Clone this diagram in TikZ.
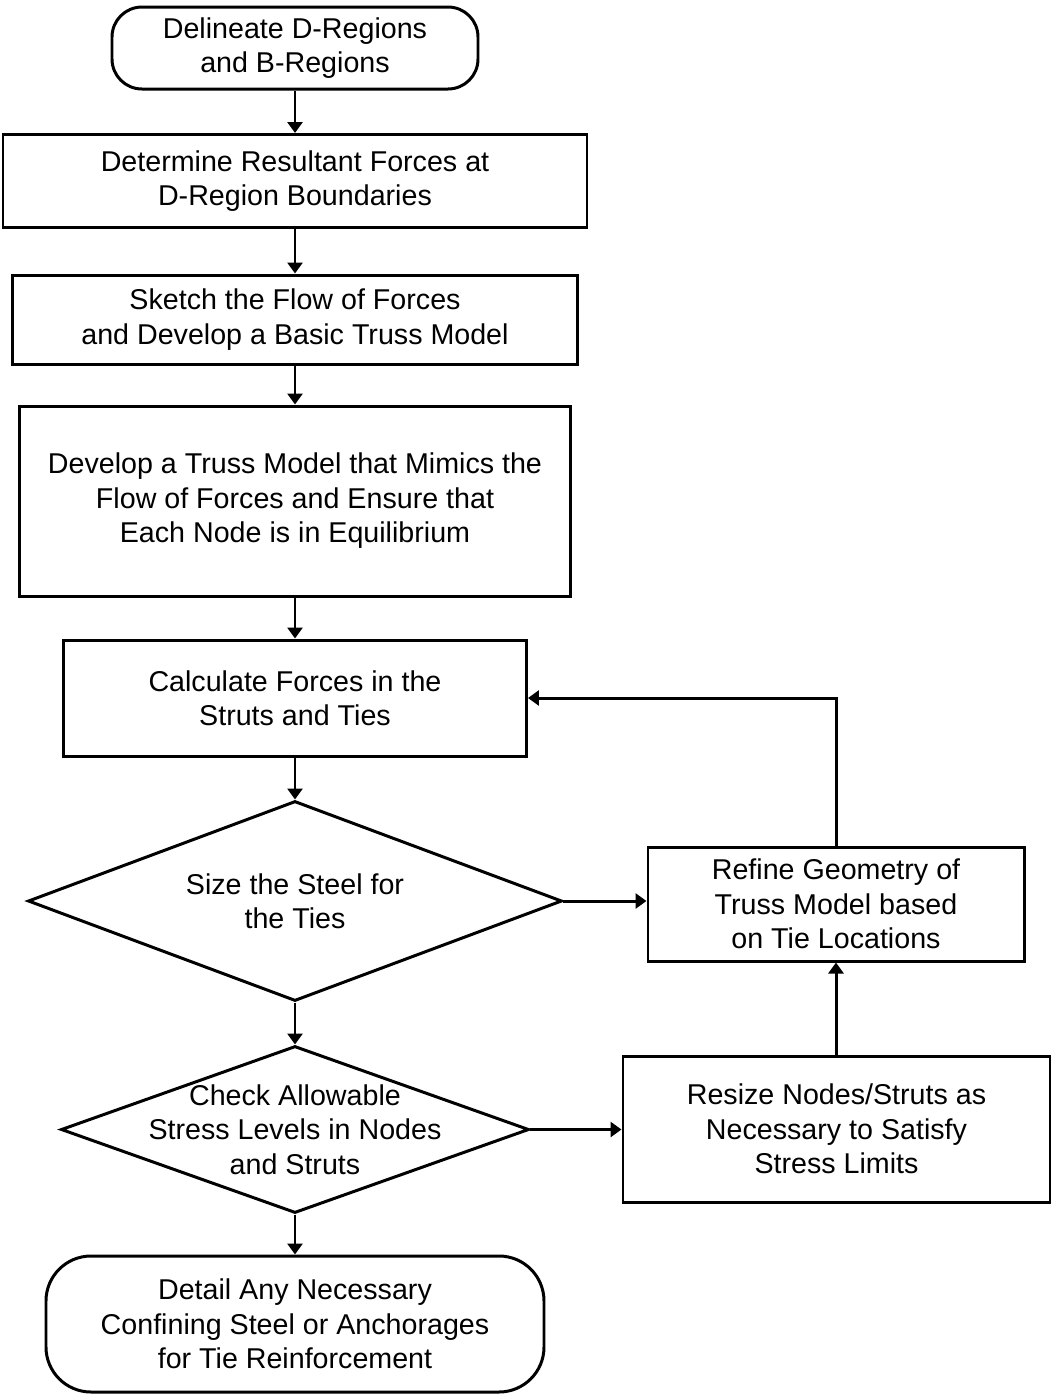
\documentclass[tikz,border=0pt]{standalone}
\usepackage{fontspec}
\setmainfont{Liberation Sans}
\usepackage{tikz}
\usetikzlibrary{shapes, shapes.geometric, positioning, arrows.meta}
\usepackage{xcolor}

\begin{document}
\begin{tikzpicture}[line width=1.7pt, >={Triangle[length=0.22cm, width=0.3cm]}]

  \tikzstyle{stepbox} = [rectangle, draw, align=center, font=\fontsize{16.3}{19.6}\selectfont];
  \tikzstyle{terminal} = [stepbox, rounded corners=0.6cm];
  \tikzstyle{decision} = [diamond, draw, inner sep=0pt];
  \tikzstyle{label} = [align=center, font=\fontsize{16.3}{19.6}\selectfont];

  \useasboundingbox (0,0) rectangle (21.02,-27.9);

  \node[terminal, minimum width=7.32cm, minimum height=1.64cm] (delineate) at (5.9,-0.96)
    {Delineate D-Regions\\and B-Regions};
  \node[stepbox, minimum width=11.68cm, minimum height=1.86cm] (resultant) at (5.9,-3.62)
    {Determine Resultant Forces at\\D-Region Boundaries};
  \node[stepbox, minimum width=11.3cm, minimum height=1.78cm] (sketch) at (5.9,-6.39)
    {Sketch the Flow of Forces\\and Develop a Basic Truss Model};
  \node[stepbox, minimum width=11.02cm, minimum height=3.8cm] (truss) at (5.9,-10.02)
    {Develop a Truss Model that Mimics the\\Flow of Forces and Ensure that\\Each Node is in Equilibrium};
  \node[stepbox, minimum width=9.26cm, minimum height=2.32cm] (forces) at (5.9,-13.96)
    {Calculate Forces in the\\Struts and Ties};

  \node[decision, minimum width=10.68cm, minimum height=4cm] (steel) at (5.9,-18.02) {};
  \node[label] (steeltext) at (steel.center) {Size the Steel for\\the Ties};
  \node[decision, minimum width=9.36cm, minimum height=3.34cm] (stress) at (5.9,-22.59) {};
  \node[label] (stresstext) at (stress.center) {Check Allowable\\Stress Levels in Nodes\\and Struts};

  \node[terminal, rounded corners=0.9cm, minimum width=9.96cm, minimum height=2.72cm] (detail) at (5.9,-26.48)
    {Detail Any Necessary\\Confining Steel or Anchorages\\for Tie Reinforcement};

  \node[stepbox, minimum width=7.52cm, minimum height=2.28cm] (refine) at (16.72,-18.08)
    {Refine Geometry of\\Truss Model based\\on Tie Locations};
  \node[stepbox, minimum width=8.54cm, minimum height=2.92cm] (resize) at (16.73,-22.58)
    {Resize Nodes/Struts as\\Necessary to Satisfy\\Stress Limits};

  \draw[->] (delineate) -- (resultant);
  \draw[->] (resultant) -- (sketch);
  \draw[->] (sketch) -- (truss);
  \draw[->] (truss) -- (forces);
  \draw[->] (forces) -- (steel);
  \draw[->] (steel) -- (stress);
  \draw[->] (stress) -- (detail);

  % loop back on the right
  \draw[->] (steel.east) -- (steel.east -| refine.west);
  \draw[->] (stress.east) -- (stress.east -| resize.west);
  \draw[->] (resize.north -| refine.south) -- (refine.south);
  \draw[->] (refine.north) |- (forces.east);
\end{tikzpicture}
\end{document}
